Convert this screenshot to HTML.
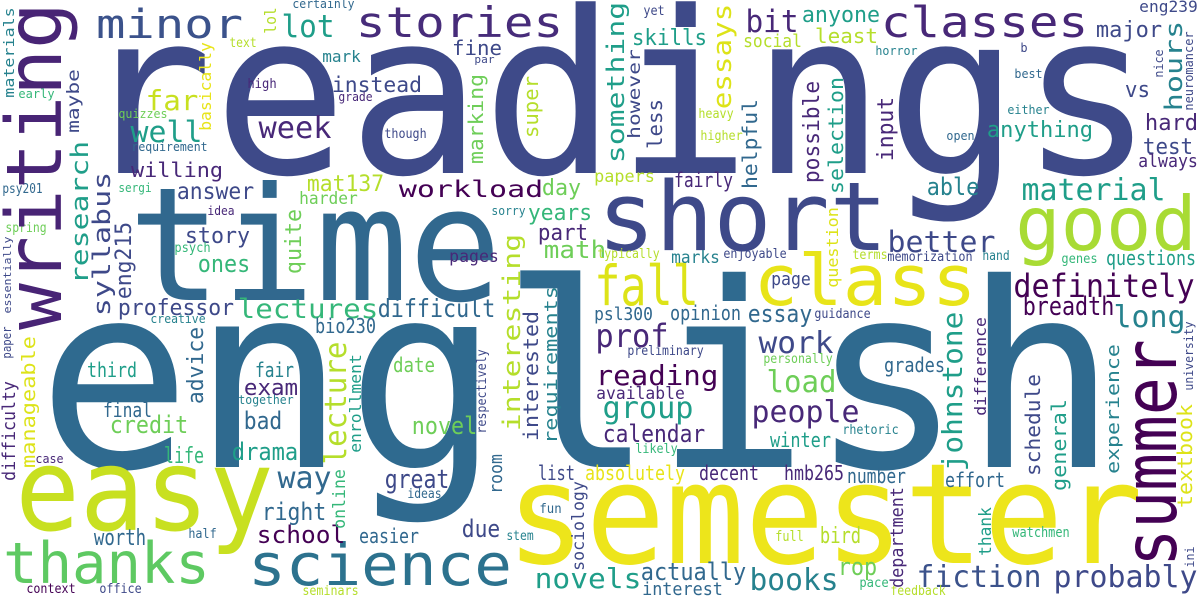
<!DOCTYPE html>
<html><head><meta charset="utf-8"><style>
html,body{margin:0;padding:0;background:#fff;}
svg{display:block;}
text{font-family:"DejaVu Sans Mono","Liberation Mono",monospace;}
</style></head><body>
<svg id="cloud" width="1200" height="600" viewBox="0 0 1200 600" xmlns="http://www.w3.org/2000/svg">
<rect width="1200" height="600" fill="#fff"/>
</svg>
<script>
// [word, inkLeft(or baseline x if vertical), baseline y (or bottom y if vertical), inkWidth, fontSize, color, vertical]
const words = [
["readings",90,173,1053,226,"#3e4a89",0],
["english",50,467,1055,257,"#2f6a8f",0],
["time",136,300,358,158,"#31688e",0],
["short",602,250,281,95,"#3e4989",0],
["easy",21,530,247,114,"#c8e020",0],
["semester",513,563,623,140,"#ede51b",0],
["good",1019,250,174,75,"#a8db34",0],
["class",757,305,216,70,"#e8e419",0],
["fall",597,305,99,55,"#dde318",0],
["science",251,585,258,58,"#2c728e",0],
["thanks",6,583,201,57,"#5ec962",0],
["classes",883,37,203,43,"#482878",0],
["stories",358,37,203,42,"#472c7a",0],
["minor",98,38,143,40,"#3b528b",0],
["lot",283,37,50,31,"#1f9e89",0],
["certainly",293,8,61,12,"#31688e",0],
["text",230,47,26,13,"#b5de2b",0],
["fine",453,55,48,20,"#3e4989",0],
["mark",323,62,37,16,"#26828e",0],
["par",475,63,19,11,"#3e4989",0],
["early",19,98,35,12,"#35b779",0],
["far",147,110,50,28,"#c8e020",0],
["instead",333,92,88,21,"#3e4989",0],
["high",248,88,28,13,"#482878",0],
["grade",339,101,33,12,"#482878",0],
["quizzes",119,118,48,12,"#6ece58",0],
["well",132,142,69,29,"#1f9e89",0],
["week",260,138,70,30,"#482878",0],
["though",385,138,41,13,"#3e4989",0],
["requirement",132,151,75,12,"#31688e",0],
["willing",132,177,90,20,"#482878",0],
["psy201",3,193,39,13,"#31688e",0],
["sergi",119,192,32,12,"#35b779",0],
["answer",178,199,75,23,"#3e4989",0],
["mat137",308,191,75,22,"#b5de2b",0],
["harder",300,204,57,17,"#6ece58",0],
["workload",400,197,142,23,"#440154",0],
["day",543,195,37,22,"#6ece58",0],
["idea",208,215,26,12,"#482878",0],
["sorry",492,215,33,12,"#26828e",0],
["years",529,220,62,22,"#35b779",0],
["spring",6,232,40,13,"#6ece58",0],
["story",186,243,63,22,"#3e4989",0],
["psych",175,252,35,13,"#35b779",0],
["part",539,240,48,22,"#482878",0],
["math",545,258,60,24,"#6ece58",0],
["pages",450,262,48,17,"#482878",0],
["ones",199,272,50,24,"#35b779",0],
["yet",644,15,20,13,"#3e4989",0],
["skills",633,45,73,22,"#1f9e89",0],
["bit",747,32,50,31,"#482878",0],
["anyone",803,22,76,22,"#1f9e89",0],
["social",744,47,57,18,"#b5de2b",0],
["least",816,43,61,20,"#b5de2b",0],
["horror",876,55,41,12,"#26828e",0],
["eng239",1140,12,57,16,"#3e4989",0],
["major",1097,37,64,22,"#3e4989",0],
["b",1021,52,6,12,"#3e4989",0],
["best",1015,78,27,12,"#31688e",0],
["vs",1126,97,23,22,"#3e4989",0],
["either",1008,114,41,12,"#26828e",0],
["heavy",699,118,34,13,"#b5de2b",0],
["anything",988,137,104,22,"#1f9e89",0],
["hard",1146,130,51,22,"#482878",0],
["open",947,140,27,12,"#31688e",0],
["higher",701,140,41,13,"#b5de2b",0],
["test",1144,154,48,22,"#3e4989",0],
["always",1139,167,58,18,"#482878",0],
["papers",595,182,59,17,"#b5de2b",0],
["fairly",675,187,57,20,"#482878",0],
["able",928,195,50,24,"#26828e",0],
["material",1023,200,141,30,"#1f9e89",0],
["better",889,252,105,29,"#3e4989",0],
["typically",598,258,61,13,"#b5de2b",0],
["marks",672,263,47,17,"#26828e",0],
["enjoyable",724,258,62,13,"#3e4989",0],
["terms",853,259,34,13,"#b5de2b",0],
["memorization",888,261,84,13,"#3e4989",0],
["hand",983,260,26,13,"#26828e",0],
["genes",1062,263,35,13,"#35b779",0],
["questions",1107,265,88,20,"#1f9e89",0],
["page",772,285,38,18,"#3e4989",0],
["definitely",1015,297,178,32,"#440154",0],
["professor",119,315,114,22,"#3e4989",0],
["lectures",239,318,138,27,"#35b779",0],
["difficult",379,317,115,25,"#31688e",0],
["creative",151,323,54,12,"#26828e",0],
["bio230",316,333,59,20,"#31688e",0],
["third",88,377,48,20,"#1f9e89",0],
["date",394,372,40,20,"#6ece58",0],
["fair",256,377,37,20,"#26828e",0],
["exam",245,395,52,22,"#482878",0],
["together",239,404,54,12,"#26828e",0],
["final",104,417,47,20,"#31688e",0],
["credit",111,433,76,24,"#6ece58",0],
["bad",245,429,36,24,"#31688e",0],
["novel",413,434,63,24,"#6ece58",0],
["case",36,463,27,12,"#482878",0],
["life",165,463,38,22,"#35b779",0],
["drama",233,460,64,24,"#1f9e89",0],
["way",279,488,51,30,"#31688e",0],
["great",386,488,62,26,"#3e4989",0],
["ideas",408,498,33,13,"#31688e",0],
["list",539,480,35,20,"#3e4989",0],
["right",263,520,62,24,"#31688e",0],
["fun",540,513,21,13,"#31688e",0],
["worth",95,545,50,22,"#31688e",0],
["half",189,538,27,13,"#31688e",0],
["school",258,543,86,24,"#440154",0],
["due",463,537,36,24,"#3e4989",0],
["easier",360,543,58,20,"#31688e",0],
["stem",507,540,26,13,"#26828e",0],
["context",27,593,48,13,"#440154",0],
["office",100,593,41,13,"#3e4989",0],
["seminars",303,595,55,13,"#b5de2b",0],
["novels",536,588,104,28,"#1f9e89",0],
["psl300",595,320,57,18,"#31688e",0],
["opinion",671,320,69,20,"#31688e",0],
["essay",749,322,62,24,"#31688e",0],
["guidance",815,318,55,13,"#3e4989",0],
["breadth",1024,315,89,26,"#440154",0],
["long",1115,327,69,30,"#26828e",0],
["prof",597,347,70,32,"#482878",0],
["work",760,353,72,30,"#3e4989",0],
["preliminary",628,355,75,13,"#3e4989",0],
["personally",764,363,68,13,"#6ece58",0],
["grades",885,372,59,20,"#31688e",0],
["reading",597,385,120,28,"#440154",0],
["available",597,399,87,17,"#482878",0],
["load",768,392,67,30,"#6ece58",0],
["group",604,418,88,30,"#1f9e89",0],
["people",753,422,105,30,"#482878",0],
["rhetoric",843,434,55,13,"#26828e",0],
["calendar",604,442,100,24,"#482878",0],
["winter",771,447,59,20,"#1f9e89",0],
["likely",636,453,41,13,"#35b779",0],
["absolutely",586,480,98,20,"#e8e419",0],
["decent",700,480,58,20,"#482878",0],
["hmb265",785,480,58,20,"#482878",0],
["number",848,483,57,20,"#31688e",0],
["effort",946,487,58,20,"#31688e",0],
["watchmen",1013,537,56,14,"#35b779",0],
["full",776,541,27,14,"#b5de2b",0],
["bird",821,543,39,22,"#b5de2b",0],
["rop",839,575,37,24,"#6ece58",0],
["actually",642,580,103,24,"#31688e",0],
["books",751,590,86,30,"#26828e",0],
["fiction",918,587,122,30,"#3b528b",0],
["probably",1055,587,141,30,"#3e4989",0],
["interest",643,595,79,18,"#31688e",0],
["pace",860,587,28,13,"#35b779",0],
["feedback",891,595,54,13,"#b5de2b",0],
["writing",61,326,320,77,"#482475",1],
["summer",1176,563,220,73,"#440154",1],
["johnstone",962,470,157,28,"#1f9e89",1],
["lol",276,33,25,16,"#b5de2b",1],
["materials",14,97,89,14,"#26828e",1],
["maybe",79,132,62,17,"#3e4989",1],
["basically",211,130,87,16,"#e8e419",1],
["marking",483,163,88,20,"#6ece58",1],
["super",538,137,60,20,"#b5de2b",1],
["research",88,283,141,24,"#1f9e89",1],
["syllabus",110,315,142,24,"#3e4989",1],
["eng215",131,298,75,22,"#3e4989",1],
["quite",301,273,63,22,"#6ece58",1],
["interesting",520,430,195,24,"#b5de2b",1],
["essentially",11,313,76,11,"#3e4989",1],
["requirements",557,443,156,18,"#26828e",1],
["something",624,162,159,24,"#1f9e89",1],
["however",640,138,88,17,"#3e4989",1],
["less",662,148,48,20,"#3e4989",1],
["essays",731,108,103,26,"#dde318",1],
["hours",1182,110,88,24,"#26828e",1],
["nice",1163,77,27,12,"#3e4989",1],
["neuromancer",1193,110,78,12,"#3e4989",1],
["helpful",757,188,88,20,"#31688e",1],
["possible",819,182,100,22,"#482878",1],
["selection",843,193,115,20,"#1f9e89",1],
["input",893,160,62,22,"#482878",1],
["question",838,287,79,16,"#dde318",1],
["paper",11,358,31,12,"#3e4989",1],
["manageable",35,467,130,19,"#dde318",1],
["advice",203,403,75,22,"#31688e",1],
["lecture",346,463,120,30,"#b5de2b",1],
["enrollment",361,452,97,16,"#1f9e89",1],
["respectively",486,433,83,13,"#3e4989",1],
["interested",538,440,128,20,"#3e4989",1],
["difficulty",15,480,98,18,"#482878",1],
["room",502,493,38,18,"#31688e",1],
["online",345,528,58,17,"#35b779",1],
["sociology",584,570,88,17,"#3e4989",1],
["university",1193,390,68,12,"#3e4989",1],
["difference",986,415,97,16,"#482878",1],
["schedule",1040,475,100,20,"#3e4989",1],
["general",1066,490,90,20,"#1f9e89",1],
["experience",1119,473,128,18,"#26828e",1],
["textbook",1192,507,102,20,"#dde318",1],
["department",903,587,99,18,"#482878",1],
["thank",991,555,47,17,"#1f9e89",1],
["ini",1194,567,20,12,"#3e4989",1]
];
const svg = document.getElementById('cloud');
const NS = 'http://www.w3.org/2000/svg';
for (const w of words) {
  const fs = w[4];
  const t = document.createElementNS(NS, 'text');
  let x = w[1], y = w[2];
  if (w[6]) {
    y = y + 0.05 * fs;
    t.setAttribute('transform', 'rotate(-90 ' + x + ' ' + y + ')');
  } else {
    x = x - 0.05 * fs;
  }
  t.setAttribute('x', x);
  t.setAttribute('y', y);
  t.setAttribute('font-size', fs);
  t.setAttribute('fill', w[5]);
  t.setAttribute('textLength', w[3] + 0.1 * fs);
  t.setAttribute('lengthAdjust', 'spacingAndGlyphs');
  t.textContent = w[0];
  
  
  svg.appendChild(t);
}
</script>
</body></html>
